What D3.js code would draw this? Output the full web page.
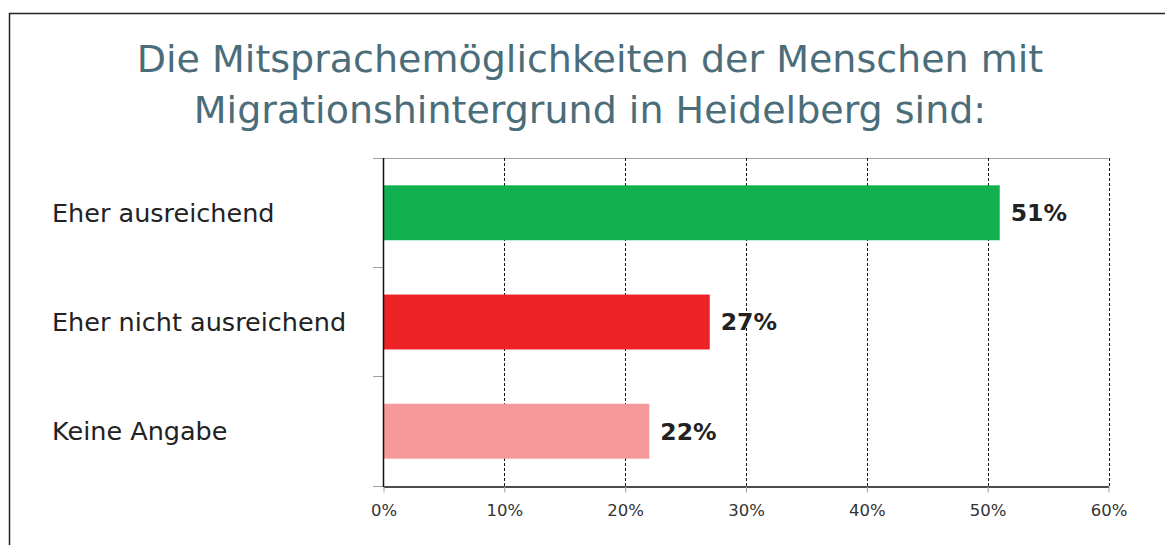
<!DOCTYPE html>
<html><head><meta charset="utf-8">
<script src="https://cdn.jsdelivr.net/npm/d3@7"></script>
<style>body{margin:0;background:#fff}svg{display:block}</style>
</head><body>
<svg id="c" width="1165" height="545"></svg>
<script>
const titleLines = ["Die Mitsprachemöglichkeiten der Menschen mit", "Migrationshintergrund in Heidelberg sind:"];
const categories = ["Eher ausreichend", "Eher nicht ausreichend", "Keine Angabe"];
const values = [0.51, 0.27, 0.22];
const valueLabels = ["51%", "27%", "22%"];
const barColors = ["#13b050", "#ed2227", "#f5999a"];
const tickValues = [0, 0.1, 0.2, 0.3, 0.4, 0.5, 0.6];
const tickLabels = ["0%", "10%", "20%", "30%", "40%", "50%", "60%"];

const svg = d3.select("#c");
const font = "'DejaVu Sans', Verdana, sans-serif";

// frame
svg.append("path").attr("d", "M9.5,545 V13.5 H1165").attr("fill", "none").attr("stroke", "#222").attr("stroke-width", 1.5);

// title
svg.append("g").selectAll("text").data(titleLines).join("text")
  .attr("x", 590).attr("y", (d, i) => 71.5 + i * 51)
  .attr("text-anchor", "middle").attr("font-family", font).attr("font-size", 38)
  .attr("fill", "#4b6d79").text(d => d);

const x = d3.scaleLinear().domain([0, 0.6]).range([383.5, 1108.5]);
const y = d3.scaleBand().domain(categories).range([158, 486]).paddingInner(0.497).paddingOuter(0.25);

// top gray line
svg.append("line").attr("x1", 373).attr("x2", x(0.6)).attr("y1", 158.5).attr("y2", 158.5).attr("stroke", "#a0a0a0");

// gridlines
svg.append("g").selectAll("line").data(tickValues.slice(1)).join("line")
  .attr("x1", d => Math.round(x(d)) + 0.5).attr("x2", d => Math.round(x(d)) + 0.5)
  .attr("y1", 158).attr("y2", 486)
  .attr("stroke", "#111").attr("stroke-dasharray", "3,2");

// bars
svg.append("g").selectAll("rect").data(categories).join("rect")
  .attr("x", x(0)).attr("y", d => y(d)).attr("width", (d, i) => x(values[i]) - x(0))
  .attr("height", y.bandwidth()).attr("fill", (d, i) => barColors[i]);

// left axis ticks (band boundaries)
const step = y.step();
const bounds = [158, 158 + step, 158 + 2 * step, 486];
svg.append("g").selectAll("line").data(bounds).join("line")
  .attr("x1", 373).attr("x2", 383).attr("y1", d => Math.round(d) + 0.5).attr("y2", d => Math.round(d) + 0.5)
  .attr("stroke", "#a0a0a0");

// bottom axis
const xAxis = d3.axisBottom(x).tickValues(tickValues).tickFormat((d, i) => tickLabels[i]).tickSize(6).tickSizeOuter(0).tickPadding(12);
const gx = svg.append("g").attr("transform", "translate(0,486.5)").call(xAxis);
gx.select(".domain").attr("stroke", "#111").attr("stroke-width", 1.5);
gx.selectAll(".tick line").attr("stroke", "#a0a0a0");
gx.selectAll(".tick text").attr("font-family", font).attr("font-size", 16.5).attr("fill", "#333");

// left axis line
svg.append("line").attr("x1", 383.5).attr("x2", 383.5).attr("y1", 158).attr("y2", 487).attr("stroke", "#111").attr("stroke-width", 1.5);

// category labels
svg.append("g").selectAll("text").data(categories).join("text")
  .attr("x", 52).attr("y", d => y(d) + y.bandwidth() / 2).attr("dy", "0.36em")
  .attr("font-family", font).attr("font-size", 25.5).attr("fill", "#222").text(d => d);

// value labels
svg.append("g").selectAll("text").data(categories).join("text")
  .attr("x", (d, i) => x(values[i]) + 11).attr("y", d => y(d) + y.bandwidth() / 2).attr("dy", "0.36em")
  .attr("font-family", font).attr("font-size", 23.5).attr("font-weight", "bold").attr("fill", "#222")
  .text((d, i) => valueLabels[i]);
</script>
</body></html>
